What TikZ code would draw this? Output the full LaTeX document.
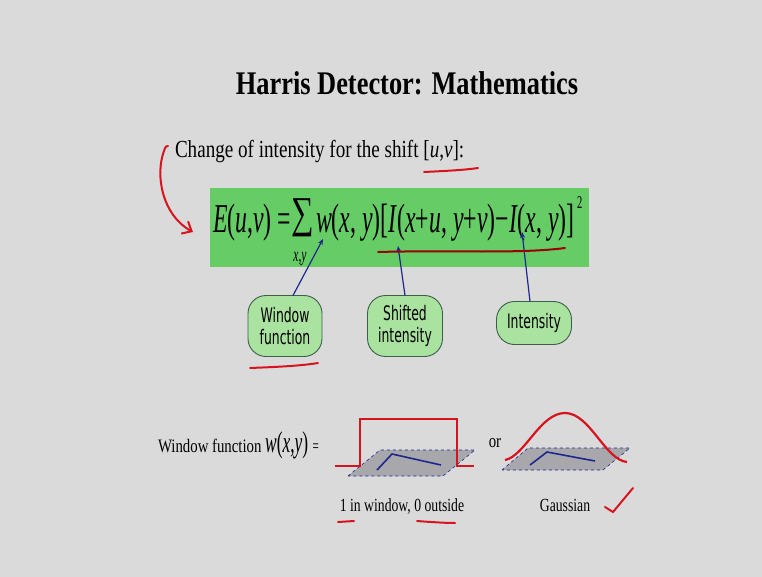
\documentclass[tikz,border=0pt]{standalone}
\usepackage{fontspec}
\setmainfont{Liberation Serif}[FakeStretch=0.78]
\newfontfamily\titlefont{Liberation Serif}[FakeStretch=0.8]
\newfontfamily\eqfont{Liberation Serif}[FakeStretch=0.58]
\newfontfamily\sumfont{Liberation Serif}[FakeStretch=0.72]
\newfontfamily\capfont{Liberation Serif}[FakeStretch=0.74]
\newfontfamily\bubfont{DejaVu Sans}[FakeStretch=0.62]
\usetikzlibrary{arrows.meta}
\definecolor{bgc}{RGB}{218,218,218}
\definecolor{eqgreen}{RGB}{102,204,102}
\definecolor{bubfill}{RGB}{170,226,160}
\definecolor{bubline}{RGB}{60,95,75}
\definecolor{penred}{RGB}{215,20,30}
\definecolor{arrblue}{RGB}{30,40,140}
\definecolor{planegray}{RGB}{168,168,172}
\begin{document}
\begin{tikzpicture}[x=1pt,y=-1pt,
  bubble/.style={draw=bubline,line width=0.9pt,fill=bubfill,rounded corners=18pt,
    font=\bubfont\fontsize{20}{22}\selectfont,align=center,inner sep=0pt},
  pen/.style={draw=penred,line width=2pt,line cap=round},
  bluearrow/.style={draw=arrblue,line width=1.2pt,-{Stealth[length=6pt,width=5pt]}},
  plane/.style={fill=planegray,draw=arrblue,dashed,line width=0.6pt},
  curve/.style={draw=penred,line width=2.2pt},
  pl/.style={draw=arrblue,line width=1.6pt},
  every node/.style={inner sep=0pt,outer sep=0pt}]
\fill[bgc] (0,0) rectangle (762,577);
\useasboundingbox (0,0) rectangle (762,577);
% title
\node[anchor=base,font=\titlefont\bfseries\fontsize{33}{36}\selectfont] (title) at (407,95) {Harris Detector: Mathematics};
% line 1
\node[anchor=base west,font=\fontsize{24.5}{26}\selectfont] (change) at (175,158) {Change of intensity for the shift [\textit{u},\textit{v}]:};
% equation box
\node[fill=eqgreen,minimum width=379pt,minimum height=79pt,anchor=north west] (box) at (210,188) {};
\node[anchor=base west,font=\eqfont\fontsize{41}{44}\selectfont] (eqL) at (213,233) {\textit{E}(\textit{u},\textit{v}) =};
\node[anchor=south,font=\sumfont\fontsize{44}{46}\selectfont] (sum) at (303,237) {∑};
\node[anchor=base,font=\eqfont\itshape\fontsize{20}{22}\selectfont] (sub) at (300,261) {x,y};
\node[anchor=base west,font=\eqfont\fontsize{41}{44}\selectfont] (eqR) at (316,233) {\textit{w}(\textit{x}, \textit{y})[\textit{I}(\textit{x}+\textit{u}, \textit{y}+\textit{v})−\textit{I}(\textit{x}, \textit{y})]};
\node[anchor=base west,font=\eqfont\fontsize{18}{20}\selectfont] (sq) at (577,209) {2};
% bubbles
\node[bubble,minimum width=74pt,minimum height=61pt] (wf) at (285,326) {Window\\function};
\node[bubble,minimum width=75pt,minimum height=61pt] (si) at (405,326) {Shifted\\intensity};
\node[bubble,minimum width=75pt,minimum height=43pt] (in) at (534,323) {Intensity};
\coordinate (wt) at (323,239);
\coordinate (st) at (398,246);
\coordinate (it) at (522,232);
\draw[bluearrow] (wf.north) ++(8,0) coordinate (wb) -- (wt);
\draw[bluearrow] (si.north) -- (st);
\draw[bluearrow] (in.north) ++(-4,0) coordinate (ib) -- (it);
% red pen marks
\coordinate (a1) at (168,146);
\coordinate (a2) at (193,232);
\draw[pen] (164,151) .. controls (165,147) and (167,145) .. (a1);
\draw[pen,-{Straight Barb[length=8pt,width=14pt]}] (164,151) .. controls (155,175) and (162,215) .. (a2);
\draw[pen] (424,172) .. controls (445,171) and (465,170) .. (478,168);
\draw[pen,draw=red!60!black] (378,252) .. controls (450,250) and (520,254) .. (565,248);
\draw[pen] (250,368) .. controls (275,367) and (300,366) .. (318,363);
% window function line
\node[anchor=base west,font=\fontsize{19}{20}\selectfont] (wfl) at (158,452) {Window function \eqfont\fontsize{30}{32}\selectfont\textit{w}(\textit{x},\textit{y}) \fontsize{19}{20}\selectfont =};
% box window
\coordinate (p1) at (348,476); \coordinate (p2) at (380,450); \coordinate (p3) at (475,450); \coordinate (p4) at (443,476);
\path[plane] (p1) -- (p2) -- (p3) -- (p4) -- cycle;
\coordinate (l1) at (377,470); \coordinate (l2) at (392,454); \coordinate (l3) at (441,465);
\draw[pl] (l1) -- (l2) -- (l3);
\coordinate (r1) at (335,466); \coordinate (r2) at (360,466); \coordinate (r3) at (360,419);
\coordinate (r4) at (457,419); \coordinate (r5) at (457,466); \coordinate (r6) at (474,466);
\draw[curve] (r1) -- (r2) -- (r3) -- (r4) -- (r5) -- (r6);
\node[anchor=base,font=\fontsize{19}{20}\selectfont] (or) at (495,447) {or};
% gaussian
\coordinate (g1) at (502,470); \coordinate (g2) at (528,448); \coordinate (g3) at (630,448); \coordinate (g4) at (603,470);
\path[plane] (g1) -- (g2) -- (g3) -- (g4) -- cycle;
\coordinate (m1) at (530,465); \coordinate (m2) at (547,452); \coordinate (m3) at (595,461);
\draw[pl] (m1) -- (m2) -- (m3);
\coordinate (c1) at (505,460); \coordinate (c2) at (565,413); \coordinate (c3) at (627,462);
\draw[curve] (c1) .. controls (525,456) and (540,413) .. (c2) .. controls (590,413) and (605,460) .. (c3);
% captions
\node[anchor=base,font=\capfont\fontsize{18.5}{20}\selectfont] (cap1) at (402,511) {1 in window, 0 outside};
\node[anchor=base,font=\capfont\fontsize{18.5}{20}\selectfont] (cap2) at (565,511) {Gaussian};
\draw[pen] (338,522) -- (354,521);
\draw[pen] (417,521) .. controls (430,522) and (445,523) .. (455,523);
\draw[pen] (605,507) -- (613,512) -- (633,488);
\end{tikzpicture}
\end{document}
